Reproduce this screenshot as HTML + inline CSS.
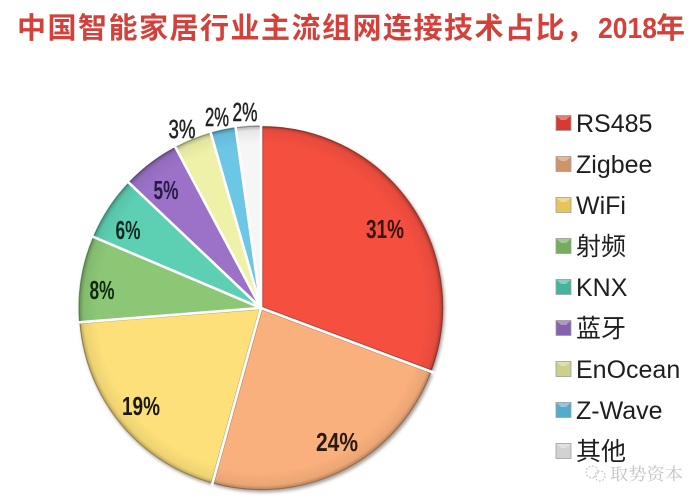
<!DOCTYPE html>
<html>
<head>
<meta charset="utf-8">
<style>
  html,body{margin:0;padding:0;background:#fff;}
  svg{display:block;}
</style>
</head>
<body>
<svg width="698" height="504" viewBox="0 0 698 504" xmlns="http://www.w3.org/2000/svg">
  <defs>
    <filter id="sh" x="-10%" y="-10%" width="120%" height="120%">
      <feDropShadow dx="1.5" dy="2" stdDeviation="1.5" flood-color="#555" flood-opacity="0.55"/>
    </filter>
    <radialGradient id="rim" cx="261" cy="308" r="182" gradientUnits="userSpaceOnUse">
      <stop offset="0.9" stop-color="#000" stop-opacity="0"/>
      <stop offset="0.975" stop-color="#000" stop-opacity="0.06"/>
      <stop offset="1" stop-color="#000" stop-opacity="0.28"/>
    </radialGradient>
  </defs>
  <rect width="698" height="504" fill="#fff"/>

  <!-- Title -->
  <g font-family="'Liberation Sans','Noto Sans CJK SC',sans-serif" font-weight="bold" fill="#d4403a">
    <text x="17" y="38" font-size="29" textLength="578" lengthAdjust="spacing">中国智能家居行业主流组网连接技术占比，</text>
    <text x="598" y="38" font-size="29" textLength="59" lengthAdjust="spacingAndGlyphs">2018</text>
    <text x="656" y="38" font-size="29">年</text>
  </g>

  <!-- Pie -->
  <g filter="url(#sh)">
    <path transform="translate(1.64,-1.14)" d="M261,308 L261,128 A180,180 0 0 1 429.6,371 Z" fill="#f5503f" stroke="#b0463a" stroke-width="1.2" stroke-linejoin="round"/>
    <path transform="translate(0.91,1.78)" d="M261,308 L429.6,371 A180,180 0 0 1 212.9,481.4 Z" fill="#f9b07c" stroke="#b8896a" stroke-width="1.2" stroke-linejoin="round"/>
    <path transform="translate(-1.54,1.27)" d="M261,308 L212.9,481.4 A180,180 0 0 1 81.6,322.1 Z" fill="#fde07a" stroke="#b5a46a" stroke-width="1.2" stroke-linejoin="round"/>
    <path transform="translate(-1.97,-0.32)" d="M261,308 L81.6,322.1 A180,180 0 0 1 95.3,237.7 Z" fill="#8cc774" stroke="#6f9a62" stroke-width="1.2" stroke-linejoin="round"/>
    <path transform="translate(-1.67,-1.1)" d="M261,308 L95.3,237.7 A180,180 0 0 1 130.4,184.1 Z" fill="#5dd0b4" stroke="#4d9c8a" stroke-width="1.2" stroke-linejoin="round"/>
    <path transform="translate(-1.21,-1.59)" d="M261,308 L130.4,184.1 A180,180 0 0 1 176.5,149.1 Z" fill="#9c72c8" stroke="#6f5a8c" stroke-width="1.2" stroke-linejoin="round"/>
    <path transform="translate(-0.75,-1.85)" d="M261,308 L176.5,149.1 A180,180 0 0 1 211.4,135 Z" fill="#eef2a8" stroke="#a8aa80" stroke-width="1.2" stroke-linejoin="round"/>
    <path transform="translate(-0.42,-1.96)" d="M261,308 L211.4,135 A180,180 0 0 1 235.9,129.7 Z" fill="#6cc6e6" stroke="#5895aa" stroke-width="1.2" stroke-linejoin="round"/>
    <path transform="translate(-0.14,-2)" d="M261,308 L235.9,129.7 A180,180 0 0 1 261,128 Z" fill="#f6f6f6" stroke="#a0a0a0" stroke-width="1.2" stroke-linejoin="round"/>
  </g>
  <circle cx="261" cy="308" r="182" fill="url(#rim)"/>
  <!-- white separators -->
  <g stroke="#fff" stroke-width="2.6" stroke-linecap="round">
    <line x1="261" y1="308" x2="261" y2="124"/>
    <line x1="261" y1="308" x2="433" y2="372.4"/>
    <line x1="261" y1="308" x2="212" y2="485"/>
    <line x1="261" y1="308" x2="78" y2="322.4"/>
    <line x1="261" y1="308" x2="92" y2="236.3"/>
    <line x1="261" y1="308" x2="127.5" y2="181.4"/>
    <line x1="261" y1="308" x2="174.6" y2="145.6"/>
    <line x1="261" y1="308" x2="210.3" y2="131.2"/>
    <line x1="261" y1="308" x2="235.4" y2="125.7"/>
  </g>

  <!-- Labels -->
  <g font-family="'Liberation Sans',sans-serif" font-weight="bold" font-size="26" text-anchor="middle">
    <text x="385" y="238" textLength="38" lengthAdjust="spacingAndGlyphs" fill="#3a1510">31%</text>
    <text x="337" y="451" textLength="42" lengthAdjust="spacingAndGlyphs" fill="#2a1a10">24%</text>
    <text x="141" y="415" textLength="38" lengthAdjust="spacingAndGlyphs" fill="#1a1a10">19%</text>
    <text x="102" y="299" textLength="25" lengthAdjust="spacingAndGlyphs" fill="#0f2a10">8%</text>
    <text x="128" y="239" textLength="25" lengthAdjust="spacingAndGlyphs" fill="#0f2a25">6%</text>
    <text x="166" y="199" textLength="25" lengthAdjust="spacingAndGlyphs" fill="#2a1a45">5%</text>
  </g>
  <g font-family="'Liberation Sans',sans-serif" font-size="26" text-anchor="middle" fill="#222" stroke="#222" stroke-width="0.5">
    <text x="182" y="138" textLength="27" lengthAdjust="spacingAndGlyphs">3%</text>
    <text x="217" y="126" textLength="24" lengthAdjust="spacingAndGlyphs">2%</text>
    <text x="245" y="121" textLength="25" lengthAdjust="spacingAndGlyphs">2%</text>
  </g>

  <!-- Legend -->
  <g stroke="#a0a0a0" stroke-width="0.8">
    <rect x="556" y="115.5" width="15" height="15" fill="#d63a30"/>
    <rect x="556" y="156.5" width="15" height="15" fill="#d0946a"/>
    <rect x="556" y="197.5" width="15" height="15" fill="#e6c65a"/>
    <rect x="556" y="238.5" width="15" height="15" fill="#74ad5e"/>
    <rect x="556" y="279.5" width="15" height="15" fill="#45b49b"/>
    <rect x="556" y="320.5" width="15" height="15" fill="#8462ac"/>
    <rect x="556" y="361.5" width="15" height="15" fill="#cdd088"/>
    <rect x="556" y="402.5" width="15" height="15" fill="#55acc9"/>
    <rect x="556" y="443.5" width="15" height="15" fill="#d2d2d2"/>
  </g>
  <g fill="#fff" fill-opacity="0.35">
    <polygon points="556.5,116 570.5,116 566,120 561,120"/>
    <polygon points="556.5,157 570.5,157 566,161 561,161"/>
    <polygon points="556.5,198 570.5,198 566,202 561,202"/>
    <polygon points="556.5,239 570.5,239 566,243 561,243"/>
    <polygon points="556.5,280 570.5,280 566,284 561,284"/>
    <polygon points="556.5,321 570.5,321 566,325 561,325"/>
    <polygon points="556.5,362 570.5,362 566,366 561,366"/>
    <polygon points="556.5,403 570.5,403 566,407 561,407"/>
    <polygon points="556.5,444 570.5,444 566,448 561,448"/>
  </g>
  <g font-family="'Liberation Sans','Noto Sans CJK SC',sans-serif" font-size="25" fill="#1e1e1e">
    <text x="576" y="132">RS485</text>
    <text x="576" y="173">Zigbee</text>
    <text x="576" y="214">WiFi</text>
    <text x="576" y="255">射频</text>
    <text x="576" y="296">KNX</text>
    <text x="576" y="337">蓝牙</text>
    <text x="576" y="378">EnOcean</text>
    <text x="576" y="419">Z-Wave</text>
    <text x="576" y="460">其他</text>
  </g>

  <!-- Watermark -->
  <g stroke="#c8c8c8" stroke-width="1.2" fill="none" stroke-dasharray="2 1.5">
    <circle cx="592" cy="472" r="6"/>
    <circle cx="600" cy="476" r="5"/>
  </g>
  <text x="610" y="480" font-family="'Noto Serif CJK SC','WenQuanYi Zen Hei',serif" font-size="17" fill="#c4c4c4" textLength="73" lengthAdjust="spacingAndGlyphs">取势资本</text>
</svg>
</body>
</html>
